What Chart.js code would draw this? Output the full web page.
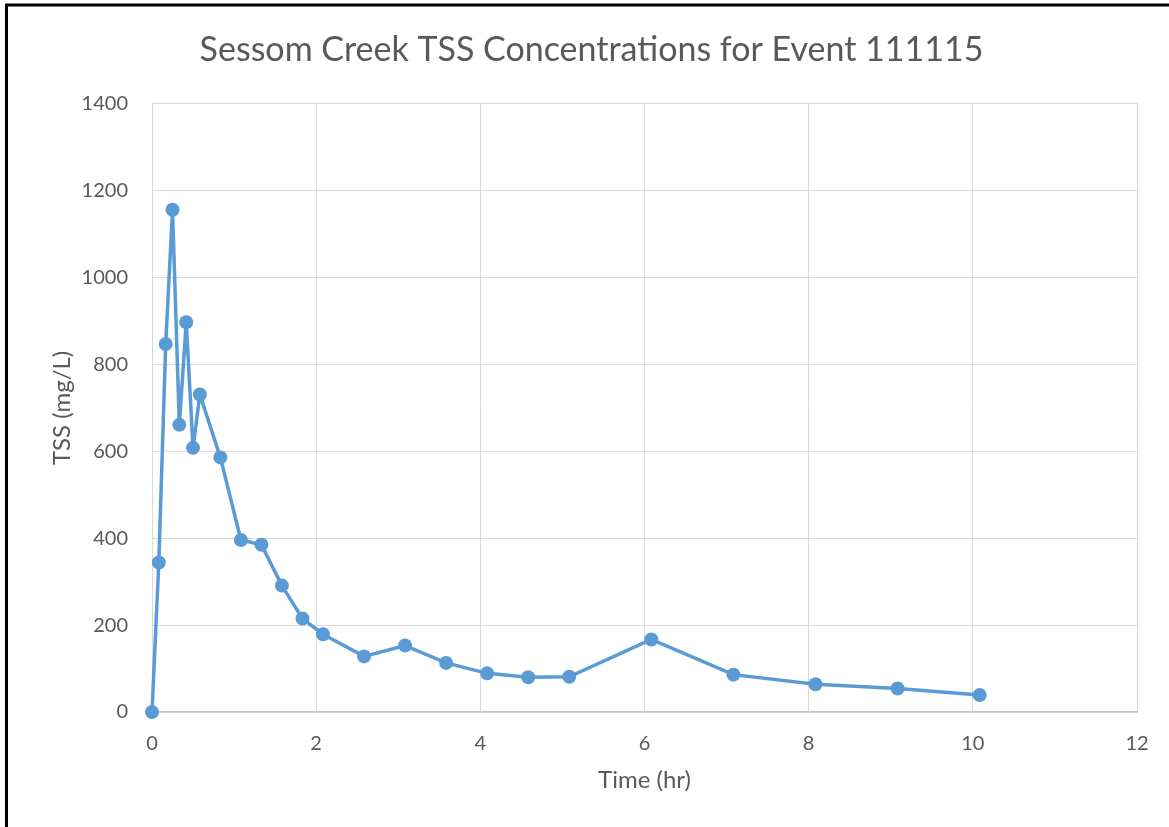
<!DOCTYPE html>
<html>
<head>
<meta charset="utf-8">
<script src="https://cdn.jsdelivr.net/npm/chart.js@4"></script>
<style>
  body { margin: 0; background: #fff; }
  #wrap { width: 1169px; height: 827px; }
</style>
</head>
<body>
<div id="wrap"><canvas id="chart" width="1169" height="827"></canvas></div>
<script>
// sample times (hr) and TSS readings (mg/L)
const timeHr = [0, 0.083, 0.167, 0.25, 0.333, 0.417, 0.5, 0.583, 0.833, 1.083, 1.333, 1.583, 1.833,
  2.083, 2.583, 3.083, 3.583, 4.083, 4.583, 5.083, 6.083, 7.083, 8.083, 9.083, 10.083];
const tssMgL = [0, 344, 847, 1156, 661, 897, 608, 731, 586, 396, 385, 291, 215,
  179, 128, 153, 113, 89, 80, 81, 167, 86, 64, 54, 39];

const chartTitle = "Sessom Creek TSS Concentrations for Event 111115";
const xTitle = "Time (hr)";
const yTitle = "TSS (mg/L)";

const textColor = "#595959";
const gridColor = "#D9D9D9";
const lineColor = "#5B9BD5";
const fontFamily = "Lato, 'Open Sans', sans-serif";

// white background + black frame on the left/top edges
const framePlugin = {
  id: "frame",
  beforeDraw(chart) {
    const ctx = chart.ctx;
    ctx.save();
    ctx.fillStyle = "#fff";
    ctx.fillRect(0, 0, chart.width, chart.height);
    ctx.restore();
  },
  afterDraw(chart) {
    const ctx = chart.ctx;
    ctx.save();
    ctx.strokeStyle = "#000";
    ctx.lineWidth = 3;
    ctx.beginPath();
    ctx.moveTo(6.5, chart.height);
    ctx.lineTo(6.5, 5);
    ctx.lineTo(chart.width, 5);
    ctx.stroke();
    ctx.restore();
  }
};

const points = timeHr.map((t, i) => ({ x: t, y: tssMgL[i] }));

new Chart(document.getElementById("chart"), {
  type: "scatter",
  data: {
    datasets: [{
      label: "TSS",
      data: points,
      showLine: true,
      clip: false,
      borderColor: lineColor,
      backgroundColor: lineColor,
      borderWidth: 3.5,
      pointRadius: 7,
      pointHoverRadius: 7,
      pointBorderWidth: 0,
      tension: 0
    }]
  },
  options: {
    responsive: false,
    animation: false,
    layout: { padding: { left: 46, right: 32, top: 0, bottom: 0 } },
    plugins: {
      legend: { display: false },
      tooltip: { enabled: false },
      title: {
        display: true,
        text: chartTitle,
        color: textColor,
        font: { family: fontFamily, size: 34, weight: "normal" },
        padding: { top: 30, bottom: 33 }
      }
    },
    scales: {
      x: {
        type: "linear",
        min: 0,
        max: 12,
        ticks: { stepSize: 2, color: textColor, padding: 20, font: { family: fontFamily, size: 20 } },
        grid: { color: gridColor, drawTicks: false },
        border: { color: "#C4C4C4", width: 1.5 },
        title: {
          display: true,
          text: xTitle,
          color: textColor,
          font: { family: fontFamily, size: 24 },
          padding: { top: 0, bottom: 32 }
        },
        afterFit(scale) { scale.height = 115; }
      },
      y: {
        min: 0,
        max: 1400,
        ticks: {
          stepSize: 200,
          color: textColor,
          padding: 24,
          font: { family: fontFamily, size: 20 },
          callback: v => String(v)
        },
        grid: { color: gridColor, drawTicks: false },
        border: { color: gridColor },
        title: {
          display: true,
          text: yTitle,
          color: textColor,
          font: { family: fontFamily, size: 24 },
          padding: { top: 2, bottom: 0 }
        },
        afterFit(scale) { scale.width = 106; }
      }
    }
  },
  plugins: [framePlugin]
});
</script>
</body>
</html>
